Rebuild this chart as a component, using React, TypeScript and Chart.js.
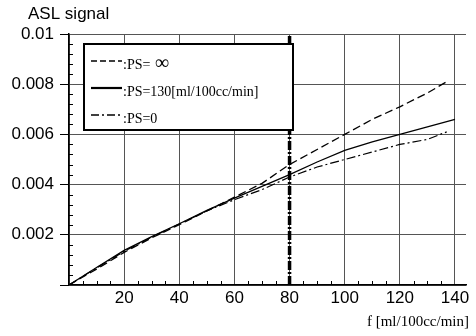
import React, { useEffect, useRef } from 'react';
import { Chart, registerables } from 'chart.js';

Chart.register(...registerables);

// ---- data ----
const FLOW = [0, 10, 20, 30, 40, 50, 60, 70, 80, 90, 100, 110, 120, 130, 140];
const FLOW_SHORT = [0, 10, 20, 30, 40, 50, 60, 70, 80, 90, 100, 110, 120, 130, 137];
const PS_INF = [0, 0.00063, 0.0013, 0.00188, 0.0024, 0.00295, 0.0035, 0.00405, 0.0048, 0.0054, 0.006, 0.0066, 0.0071, 0.00765, 0.0081];
const PS_130 = [0, 0.0007, 0.00138, 0.00193, 0.00244, 0.00297, 0.00346, 0.00393, 0.0044, 0.0049, 0.00536, 0.0057, 0.006, 0.0063, 0.0066];
const PS_0 = [0, 0.00068, 0.00134, 0.00191, 0.00243, 0.00295, 0.0034, 0.0038, 0.0043, 0.0047, 0.005, 0.0053, 0.0056, 0.0058, 0.0061];
const MARKER_X = [80, 80];
const MARKER_Y = [0, 0.01];
const X_TICKS = [0, 20, 40, 60, 80, 100, 120, 140];
const X_LABELS = ['', '20', '40', '60', '80', '100', '120', '140'];
const Y_TICKS = [0, 0.002, 0.004, 0.006, 0.008, 0.01];
const Y_LABELS = ['', '0.002', '0.004', '0.006', '0.008', '0.01'];
const LEGEND_LABELS = [':PS= \u221E', ':PS=130[ml/100cc/min]', ':PS=0'];
const Y_TITLE = 'ASL signal';
const X_TITLE = 'f [ml/100cc/min]';

const SANS = '"Liberation Sans", Arial, sans-serif';
const SERIF = '"Liberation Serif", "Times New Roman", serif';

const toPts = (xs: number[], ys: number[]) => xs.map((x, i) => ({ x, y: ys[i] }));

const decorPlugin = {
  id: 'decor',
  beforeDatasetsDraw(chart: any) {
    const ctx = chart.ctx;
    const xs = chart.scales.x;
    const ys = chart.scales.y;
    const area = chart.chartArea;
    ctx.save();
    ctx.strokeStyle = '#000';
    ctx.lineWidth = 1;
    for (let i = 1; i < 25; i++) {
      if (i % 5 === 0) continue;
      const py = Math.round(ys.getPixelForValue(i * 0.0004)) + 0.5;
      ctx.beginPath();
      ctx.moveTo(area.left, py);
      ctx.lineTo(area.left + 4, py);
      ctx.stroke();
    }
    for (let v = 5; v < 144; v += 5) {
      if (v % 20 === 0) continue;
      const px = Math.round(xs.getPixelForValue(v)) + 0.5;
      ctx.beginPath();
      ctx.moveTo(px, area.bottom);
      ctx.lineTo(px, area.bottom - 4);
      ctx.stroke();
    }
    ctx.restore();
  },
  afterDatasetsDraw(chart: any) {
    const ctx = chart.ctx;
    const ds = chart.data.datasets;
    ctx.save();
    const bx = 84, by = 44, bw = 209, bh = 86;
    ctx.fillStyle = '#fff';
    ctx.fillRect(bx, by, bw, bh);
    ctx.strokeStyle = '#000';
    ctx.lineWidth = 2;
    ctx.strokeRect(bx, by, bw, bh);
    const rows = [61, 88, 115];
    const dashes = [[6, 3], [], [8, 3, 2, 3]];
    const widths = [1.3, 2.2, 1.3];
    for (let i = 0; i < 3; i++) {
      ctx.beginPath();
      ctx.setLineDash(dashes[i]);
      ctx.lineWidth = widths[i];
      ctx.strokeStyle = ds[i].borderColor;
      ctx.moveTo(91, rows[i]);
      ctx.lineTo(122, rows[i]);
      ctx.stroke();
      ctx.setLineDash([]);
      ctx.fillStyle = '#000';
      ctx.textAlign = 'left';
      ctx.textBaseline = 'alphabetic';
      const label = LEGEND_LABELS[i];
      const inf = label.indexOf('\u221E');
      ctx.font = '14px ' + SERIF;
      if (inf >= 0) {
        const head = label.slice(0, inf);
        ctx.fillText(head, 123, rows[i] + 8);
        const w = ctx.measureText(head).width;
        ctx.font = '20px ' + SERIF;
        ctx.fillText('\u221E', 123 + w + 1, rows[i] + 8);
      } else {
        ctx.fillText(label, 123, rows[i] + 8);
      }
    }
    ctx.restore();
  },
  afterDraw(chart: any) {
    const ctx = chart.ctx;
    ctx.save();
    ctx.fillStyle = '#000';
    ctx.font = '17px ' + SANS;
    ctx.textAlign = 'left';
    ctx.textBaseline = 'alphabetic';
    ctx.fillText(Y_TITLE, 28, 19);
    ctx.font = '15px ' + SERIF;
    ctx.textAlign = 'right';
    ctx.fillText(X_TITLE, 469, 326);
    ctx.restore();
  },
};

export default function App() {
  const ref = useRef<HTMLCanvasElement | null>(null);
  useEffect(() => {
    document.body.style.margin = '0';
    const canvas = ref.current!;
    const chart = new Chart(canvas, {
      type: 'line',
      data: {
        datasets: [
          {
            label: LEGEND_LABELS[0],
            data: toPts(FLOW_SHORT, PS_INF),
            borderColor: '#000',
            borderWidth: 1.3,
            borderDash: [8, 4],
            pointRadius: 0,
            tension: 0,
          },
          {
            label: LEGEND_LABELS[1],
            data: toPts(FLOW, PS_130),
            borderColor: '#000',
            borderWidth: 1.3,
            pointRadius: 0,
            tension: 0,
          },
          {
            label: LEGEND_LABELS[2],
            data: toPts(FLOW_SHORT, PS_0),
            borderColor: '#000',
            borderWidth: 1.2,
            borderDash: [9, 3, 2, 3],
            pointRadius: 0,
            tension: 0,
          },
          {
            label: 'marker',
            data: toPts(MARKER_X, MARKER_Y),
            borderColor: '#000',
            borderWidth: 3.5,
            borderDash: [9, 2, 2, 2],
            pointRadius: 0,
            tension: 0,
          },
        ],
      },
      options: {
        responsive: false,
        animation: false,
        layout: { padding: { top: 34, right: 10, left: 0, bottom: 0 } },
        plugins: { legend: { display: false }, tooltip: { enabled: false }, title: { display: false } },
        scales: {
          x: {
            type: 'linear',
            min: 0,
            max: 144,
            afterBuildTicks: (s: any) => {
              s.ticks = X_TICKS.map((v) => ({ value: v }));
            },
            afterFit: (s: any) => {
              s.height = 51;
            },
            grid: { color: '#555', lineWidth: 1, drawTicks: false },
            border: { color: '#000', width: 1.5 },
            ticks: {
              autoSkip: false,
              maxRotation: 0,
              padding: 3,
              color: '#000',
              font: { family: SANS, size: 17 },
              callback: (v: any) => X_LABELS[X_TICKS.indexOf(Number(v))] ?? '',
            },
          },
          y: {
            type: 'linear',
            min: 0,
            max: 0.01,
            afterBuildTicks: (s: any) => {
              s.ticks = Y_TICKS.map((v) => ({ value: v }));
            },
            afterFit: (s: any) => {
              s.width = 69;
            },
            grid: { color: '#555', lineWidth: 1, tickLength: 9, tickColor: '#000' },
            border: { color: '#000', width: 1.5 },
            ticks: {
              autoSkip: false,
              padding: 6,
              color: '#000',
              font: { family: SANS, size: 17 },
              callback: (v: any) => Y_LABELS[Y_TICKS.indexOf(Number(v))] ?? '',
            },
          },
        },
      },
      plugins: [decorPlugin],
    } as any);
    return () => chart.destroy();
  }, []);
  return <canvas ref={ref} width={476} height={336} style={{ display: 'block' }} />;
}
